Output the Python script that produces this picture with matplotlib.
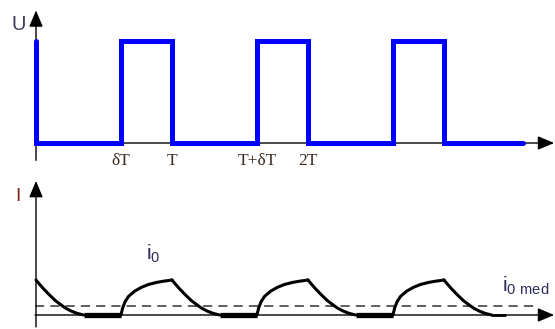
import matplotlib
matplotlib.use("Agg")
import matplotlib.pyplot as plt

# time in units of the period T
delta = 0.625                      # fraction of T where the pulse rises (δT)
n_periods = 3
t_end_u = 3.58                     # end of the drawn voltage trace

tick_pos = [delta, 1.0, 1.0 + delta, 2.0]
tick_labels = ["δT", "T", "T+δT", "2T"]

# current shape (normalised to the peak)
decay_s = [0.0, 0.03, 0.06, 0.10, 0.14, 0.18, 0.22, 0.26, 0.30, 0.35]
decay_i = [1.0, 0.86, 0.73, 0.57, 0.42, 0.30, 0.19, 0.11, 0.05, 0.0]
rise_r = [0.0, 0.012, 0.03, 0.055, 0.10, 0.15, 0.20, 0.26, 0.32, 0.375]
rise_i = [0.0, 0.20, 0.38, 0.53, 0.68, 0.79, 0.87, 0.93, 0.97, 1.0]
i_tail_end = 3.45
i_med = 0.26

W, H = 555, 329
fig = plt.figure(figsize=(W / 100, H / 100), dpi=100)
fig.patch.set_facecolor("white")

x_lim = (-36 / 136, (W - 36) / 136)
ax_u = fig.add_axes([0, (H - 170) / H, 1, 170 / H])
ax_i = fig.add_axes([0, 0, 1, 159 / H])
ax_u.set_xlim(*x_lim)
ax_u.set_ylim(-27 / 102, 143 / 102)
ax_i.set_xlim(*x_lim)
ax_i.set_ylim(-14 / 35, 145 / 35)
for ax in (ax_u, ax_i):
    ax.axis("off")

arrow = dict(arrowstyle="-|>,head_length=1.0,head_width=0.42", color="black",
             lw=1.0, mutation_scale=10, shrinkA=0, shrinkB=0)

# voltage axes
ax_u.annotate("", xy=(0, 1.30), xytext=(0, -0.17), arrowprops=arrow)
ax_u.annotate("", xy=(3.81, 0), xytext=(-0.007, 0), arrowprops=arrow)

# voltage square wave
u_t, u_v = [0.0, 0.0], [1.0, 0.0]
for k in range(n_periods):
    u_t += [k + delta, k + delta, k + 1, k + 1]
    u_v += [0, 1, 1, 0]
u_t.append(t_end_u)
u_v.append(0)
ax_u.plot(u_t, u_v, color="#0000ff", lw=3.6, solid_joinstyle="miter",
          solid_capstyle="round", zorder=3)

for p, lab in zip(tick_pos, tick_labels):
    ax_u.text(p, (143 - 161) / 102, lab, ha="center", va="center",
              fontsize=12.5, family="Liberation Serif", color="#3b2a20")
ax_u.text((18.5 - 36) / 136, (143 - 25) / 102, "U", ha="center", va="center",
          fontsize=14.5, family="Liberation Sans", color="#3c3c5a")

# current axes
ax_i.annotate("", xy=(0, 3.83), xytext=(0, -0.34), arrowprops=arrow)
ax_i.annotate("", xy=(3.81, 0), xytext=(-0.007, 0), arrowprops=arrow)
ax_i.plot([-0.007, 3.70], [i_med, i_med], color="#333333", lw=1.1,
          dashes=(6, 4))

# current waveform
for k in range(n_periods + 1):
    ax_i.plot([k + s for s in decay_s], decay_i, color="black", lw=2.2,
              solid_capstyle="round", solid_joinstyle="round")
    if k < n_periods:
        ax_i.plot([k + decay_s[-1], k + delta], [0, 0], color="black",
                  lw=3.8, solid_capstyle="butt")
        ax_i.plot([k + delta + r for r in rise_r], rise_i, color="black",
                  lw=2.2, solid_capstyle="round", solid_joinstyle="round")
ax_i.plot([n_periods + decay_s[-1], i_tail_end], [0, 0], color="black",
          lw=2.0, solid_capstyle="round")

ax_i.text((17.5 - 36) / 136, (315 - 196) / 35, "I", ha="center", va="center",
          fontsize=14, family="Liberation Sans", color="#7b2a1a")
ax_i.text((146 - 36) / 136, (315 - 254) / 35, r"$\mathregular{i_0}$",
          ha="left", va="center", fontsize=15, family="Liberation Sans",
          color="#2b2b5b")
ax_i.text((502 - 36) / 136, (315 - 286) / 35, r"$\mathregular{i_{0\ med}}$",
          ha="left", va="center", fontsize=15, family="Liberation Sans",
          color="#2b2b5b")

fig.savefig("out.png", dpi=100)
